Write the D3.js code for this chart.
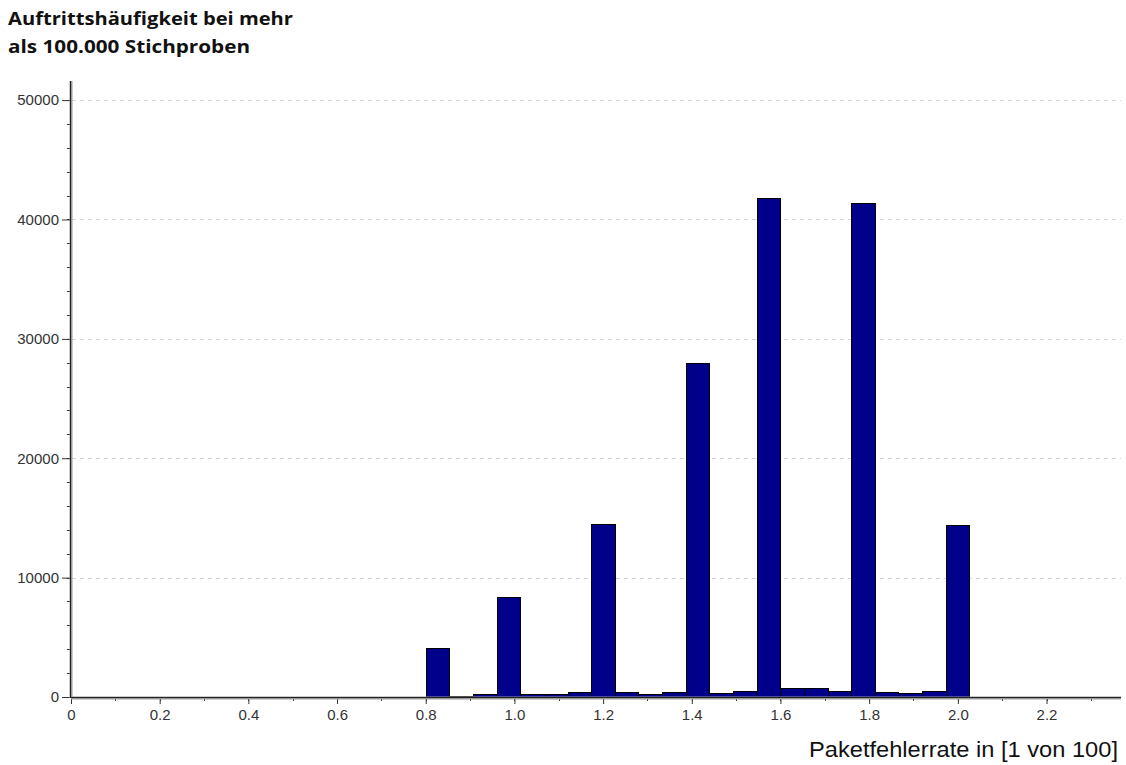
<!DOCTYPE html>
<html>
<head>
<meta charset="utf-8">
<script src="https://cdn.jsdelivr.net/npm/d3@7"></script>
<style>
  body { margin: 0; background: #fff; }
  svg { display: block; }
</style>
</head>
<body>
<div id="chart"></div>
<script>
// Histogram data: 23 bins starting at 0.8, each binWidth wide
const binStart = 0.8;
const binWidth = 0.0533;
const counts = [
  4100, 110, 230, 8350, 230, 230, 420, 14450, 420, 230, 420, 28000,
  370, 480, 41760, 730, 760, 530, 41350, 450, 370, 530, 14400
];
const xTicks = [0, 0.2, 0.4, 0.6, 0.8, 1.0, 1.2, 1.4, 1.6, 1.8, 2.0, 2.2];
const yTicks = [0, 10000, 20000, 30000, 40000, 50000];
const titleLines = ['Auftrittshäufigkeit bei mehr', 'als 100.000 Stichproben'];
const xLabel = 'Paketfehlerrate in [1 von 100]';

const width = 1126, height = 765;
const margin = { left: 71, right: 5, top: 81, bottom: 68 };
const tickFont = 'Liberation Sans, Arial, sans-serif';

const svg = d3.select('#chart').append('svg')
  .attr('width', width)
  .attr('height', height);

const x = d3.scaleLinear()
  .domain([0, 2.368])
  .range([margin.left, width - margin.right]);

const y = d3.scaleLinear()
  .domain([0, 51600])
  .range([height - margin.bottom, margin.top]);

// Grid lines
svg.append('g')
  .selectAll('line')
  .data(yTicks.filter(d => d > 0))
  .join('line')
  .attr('x1', x(0) + 1)
  .attr('x2', x.range()[1])
  .attr('y1', d => Math.round(y(d)) + 0.5)
  .attr('y2', d => Math.round(y(d)) + 0.5)
  .attr('stroke', '#d4d4d4')
  .attr('stroke-dasharray', '4,4');

// Bars
const bins = counts.map((c, i) => ({ x0: binStart + i * binWidth, x1: binStart + (i + 1) * binWidth, c }));
svg.append('g')
  .selectAll('rect')
  .data(bins)
  .join('rect')
  .attr('x', d => Math.round(x(d.x0)) + 0.5)
  .attr('width', d => Math.round(x(d.x1)) - Math.round(x(d.x0)))
  .attr('y', d => Math.round(y(d.c)) + 0.5)
  .attr('height', d => Math.max(0, Math.round(y(0)) - Math.round(y(d.c))))
  .attr('fill', '#00008b')
  .attr('stroke', '#000')
  .attr('stroke-width', 1);

// Minor ticks
const yMinor = d3.range(0, 51600, 2000);
svg.append('g')
  .selectAll('line')
  .data(yMinor)
  .join('line')
  .attr('x1', x(0) - 4)
  .attr('x2', x(0))
  .attr('y1', d => Math.round(y(d)) + 0.5)
  .attr('y2', d => Math.round(y(d)) + 0.5)
  .attr('stroke', '#333');

const xMinor = d3.range(0, 2.37, 0.1);
svg.append('g')
  .selectAll('line')
  .data(xMinor)
  .join('line')
  .attr('x1', d => Math.round(x(d)) + 0.5)
  .attr('x2', d => Math.round(x(d)) + 0.5)
  .attr('y1', y(0))
  .attr('y2', y(0) + 4)
  .attr('stroke', '#333');

// Y axis
const yAxis = d3.axisLeft(y)
  .tickValues(yTicks)
  .tickSize(9)
  .tickPadding(3)
  .tickFormat(d3.format('d'));
svg.append('g')
  .attr('transform', `translate(${x(0)},0)`)
  .call(yAxis)
  .call(g => g.select('.domain').remove())
  .call(g => g.selectAll('.tick line').attr('stroke', '#333'))
  .call(g => g.selectAll('text')
    .attr('font-family', tickFont).attr('font-size', 15).attr('fill', '#333'));

// X axis
const xAxis = d3.axisBottom(x)
  .tickValues(xTicks)
  .tickSize(7)
  .tickPadding(5)
  .tickFormat(d => d === 0 ? '0' : d3.format('.1f')(d));
svg.append('g')
  .attr('transform', `translate(0,${y(0)})`)
  .call(xAxis)
  .call(g => g.select('.domain').remove())
  .call(g => g.selectAll('.tick line').attr('stroke', '#333'))
  .call(g => g.selectAll('text')
    .attr('font-family', tickFont).attr('font-size', 15).attr('fill', '#333'));

// Axis lines (dark line with light edge)
svg.append('line')
  .attr('x1', x(0)).attr('x2', x(0))
  .attr('y1', margin.top).attr('y2', y(0) + 1)
  .attr('stroke', '#999').attr('stroke-width', 3);
svg.append('line')
  .attr('x1', x(0) - 0.5).attr('x2', x(0) - 0.5)
  .attr('y1', margin.top).attr('y2', y(0) + 1)
  .attr('stroke', '#222').attr('stroke-width', 1);
svg.append('line')
  .attr('x1', x(0)).attr('x2', x.range()[1])
  .attr('y1', y(0) + 1).attr('y2', y(0) + 1)
  .attr('stroke', '#999').attr('stroke-width', 3);
svg.append('line')
  .attr('x1', x(0)).attr('x2', x.range()[1])
  .attr('y1', y(0) + 0.5).attr('y2', y(0) + 0.5)
  .attr('stroke', '#222').attr('stroke-width', 1);

// Title
const titleWidths = [285, 242];
svg.append('g')
  .selectAll('text')
  .data(titleLines)
  .join('text')
  .attr('x', 8)
  .attr('y', (d, i) => 25 + i * 28)
  .attr('font-family', 'Open Sans, sans-serif')
  .attr('font-weight', 'bold')
  .attr('font-size', 17)
  .attr('textLength', (d, i) => titleWidths[i])
  .attr('lengthAdjust', 'spacingAndGlyphs')
  .attr('fill', '#111')
  .text(d => d);

// X label
svg.append('text')
  .attr('x', 809)
  .attr('y', 757)
  .attr('font-family', 'Liberation Sans, Arial, sans-serif')
  .attr('font-size', 21.5)
  .attr('textLength', 309)
  .attr('lengthAdjust', 'spacingAndGlyphs')
  .attr('fill', '#111')
  .text(xLabel);
</script>
</body>
</html>
